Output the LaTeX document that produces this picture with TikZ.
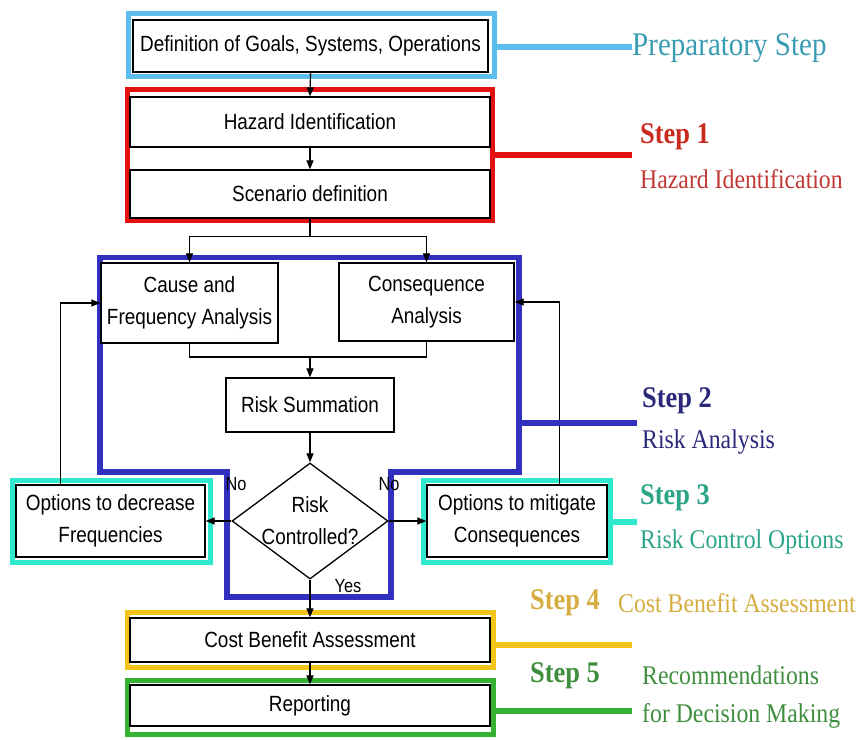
\documentclass[tikz,border=0pt]{standalone}
\usepackage{fontspec}
\setmainfont{Liberation Serif}
\newfontfamily\boxfont{Liberation Sans}[FakeStretch=0.86]
\newfontfamily\stepfont{Liberation Serif}[FakeStretch=0.88]
\usetikzlibrary{arrows.meta,shapes.geometric}

\definecolor{prepblue}{RGB}{92,190,236}
\definecolor{preptext}{RGB}{58,156,178}
\definecolor{hazred}{RGB}{226,18,18}
\definecolor{hazstep}{RGB}{200,42,30}
\definecolor{haztext}{RGB}{192,56,52}
\definecolor{anablue}{RGB}{50,48,190}
\definecolor{anatext}{RGB}{42,40,122}
\definecolor{optcyan}{RGB}{48,232,204}
\definecolor{opttext}{RGB}{44,164,136}
\definecolor{costyellow}{RGB}{242,196,24}
\definecolor{costtext}{RGB}{212,172,64}
\definecolor{repgreen}{RGB}{52,178,52}
\definecolor{reptext}{RGB}{62,142,62}

\begin{document}
\begin{tikzpicture}[x=1pt, y=-1pt, >={Triangle[length=9pt,width=7pt]},
	box/.style={draw, fill=white, line width=1.3pt, inner sep=0pt, align=center,
		font=\boxfont\fontsize{22}{32}\selectfont},
	decision/.style={box, diamond, inner sep=-9pt},
	stepframe/.style={draw, line width=5.5pt, inner sep=0pt},
	flow/.style={line width=1.2pt},
	answer/.style={inner sep=0pt, font=\boxfont\fontsize{19}{20}\selectfont},
	steptitle/.style={anchor=west, inner sep=0pt, font=\stepfont\bfseries\fontsize{30}{32}\selectfont},
	stepname/.style={anchor=west, inner sep=0pt, align=left, font=\stepfont\fontsize{27}{38}\selectfont}]

\useasboundingbox (0,0) rectangle (862,739);

% coloured frames
\node[stepframe, draw=prepblue, minimum width=366pt, minimum height=63pt](prepframe) at(311.5,45){};
\node[stepframe, draw=hazred, minimum width=365pt, minimum height=131pt](hazframe) at(310,155){};
\draw[line width=5.5pt, anablue] (100,257.5) -- (519,257.5) -- (519,472) -- (391,472) -- (391,597)
	-- (227,597) -- (227,472) -- (100,472) -- cycle;
\coordinate(anatap) at(519,423);
\node[stepframe, draw=optcyan, minimum width=198pt, minimum height=82pt](decframe) at(111.5,521.5){};
\node[stepframe, draw=optcyan, minimum width=187pt, minimum height=82pt](mitframe) at(517,521.5){};
\node[stepframe, draw=costyellow, minimum width=366pt, minimum height=55pt](costframe) at(310.5,640){};
\node[stepframe, draw=repgreen, minimum width=366pt, minimum height=54pt](repframe) at(310.5,707.5){};

% boxes
\node[box, minimum width=355pt, minimum height=52pt](goals) at(310.5,46) {Definition of Goals, Systems, Operations};
\node[box, minimum width=360pt, minimum height=50pt](hazard) at(310,122) {Hazard Identification};
\node[box, minimum width=360pt, minimum height=48pt](scenario) at(310,194) {Scenario definition};
\node[box, minimum width=177pt, minimum height=80pt](cause) at(189.5,303) {Cause and\\Frequency Analysis};
\node[box, minimum width=175pt, minimum height=78pt](conseq) at(426.5,302) {Consequence\\Analysis};
\node[box, minimum width=168pt, minimum height=54pt](summation) at(310,405) {Risk Summation};
\node[decision, minimum width=156pt, minimum height=116pt](controlled) at(310,521) {Risk\\Controlled?};
\node[box, minimum width=189pt, minimum height=72pt](decrease) at(110.5,521) {Options to decrease\\Frequencies};
\node[box, minimum width=180pt, minimum height=72pt](mitigate) at(517,521) {Options to mitigate\\Consequences};
\node[box, minimum width=360pt, minimum height=44pt](cba) at(310,640) {Cost Benefit Assessment};
\node[box, minimum width=360pt, minimum height=41pt](reporting) at(310,705.5) {Reporting};

% flow
\draw[flow,->] (goals.south) -- (hazard.north);
\draw[flow,->] (hazard.south) -- (scenario.north);
\draw[flow] (scenario.south) -- ++(0,18) coordinate(split);
\draw[flow,->] (split) -| (cause.north);
\draw[flow,->] (split) -| (conseq.north);
\draw[flow] (cause.south) |- (310,357) coordinate(merge) -| (conseq.south);
\draw[flow,->] (merge) -- (summation.north);
\draw[flow,->] (summation.south) -- (controlled.north);
\draw[flow,->] (controlled.west) -- (decrease.east);
\draw[flow,->] (controlled.east) -- (mitigate.west);
\draw[flow,->] (controlled.south) -- (cba.north);
\draw[flow,->] (cba.south) -- (reporting.north);
\draw[flow,->] (decrease.north west) ++(45,0) |- (cause.west);
\draw[flow,->] (mitigate.north east) ++(-48,0) |- (conseq.east);

\node[answer](noleft) at(236,484) {No};
\node[answer](noright) at(389,484) {No};
\node[answer](yes) at(348,586) {Yes};

% step labels
\coordinate(prepend) at(632,47);
\coordinate(hazend) at(632,155);
\coordinate(anaend) at(637,423);
\coordinate(optend) at(637,522);
\coordinate(costend) at(632,645);
\coordinate(repend) at(632,711);

\draw[line width=5.5pt, prepblue] (prepframe.east |- prepend) -- (prepend);
\draw[line width=5.5pt, hazred] (hazframe.east |- hazend) -- (hazend);
\draw[line width=5.5pt, anablue] (anatap) -- (anaend);
\draw[line width=5.5pt, optcyan] (mitframe.east |- optend) -- (optend);
\draw[line width=5.5pt, costyellow] (costframe.east |- costend) -- (costend);
\draw[line width=5.5pt, repgreen] (repframe.east |- repend) -- (repend);

\node[stepname, text=preptext, font=\stepfont\fontsize{33}{34}\selectfont](prep) at(632,48) {Preparatory Step};
\node[steptitle, text=hazstep](step1) at(640,137) {Step 1};
\node[stepname, text=haztext](hazname) at(640,179) {Hazard Identification};
\node[steptitle, text=anatext](step2) at(642,401) {Step 2};
\node[stepname, text=anatext](ananame) at(642,442) {Risk Analysis};
\node[steptitle, text=opttext](step3) at(640,498) {Step 3};
\node[stepname, text=opttext](optname) at(640,542) {Risk Control Options};
\node[steptitle, text=costtext](step4) at(530,603) {Step 4};
\node[stepname, text=costtext](costname) at(618,603) {Cost Benefit Assessment};
\node[steptitle, text=reptext](step5) at(530,676) {Step 5};
\node[stepname, text=reptext](repname) at(642,697) {Recommendations\\for Decision Making};

\end{tikzpicture}
\end{document}
